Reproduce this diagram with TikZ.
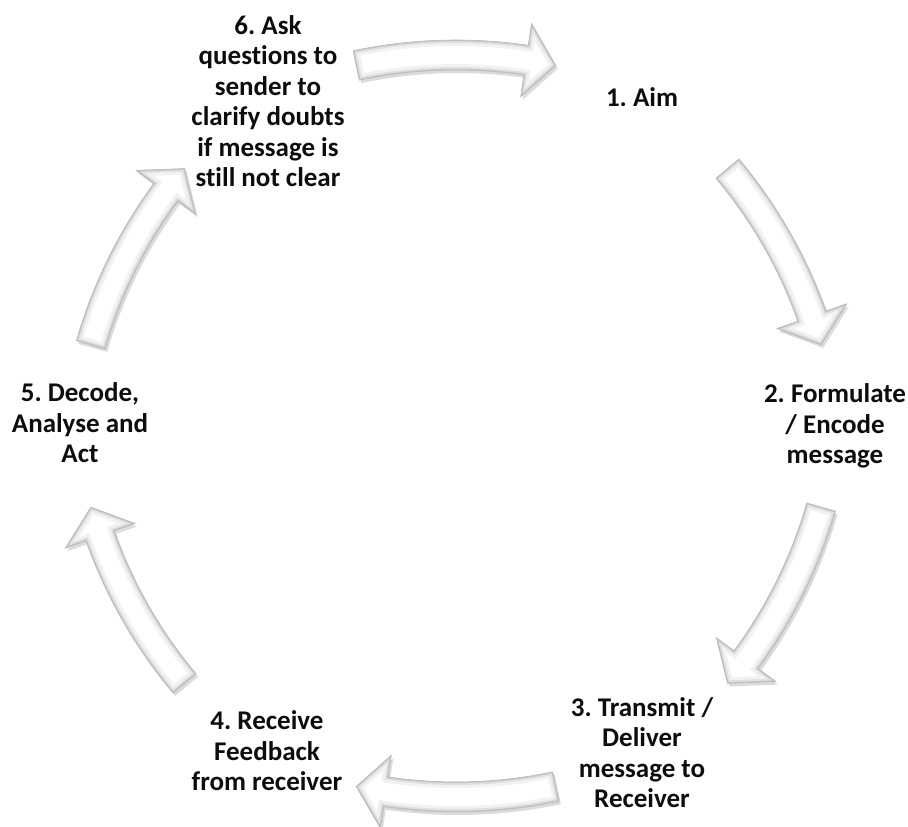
\documentclass[tikz,border=0pt]{standalone}
\usepackage{fontspec}
\setmainfont[Ligatures=NoCommon]{Carlito}
\tikzset{
  lbl/.style={font=\bfseries\fontsize{27}{30.5}\selectfont, align=center,
              inner sep=0pt, anchor=base, text=black!95},
  arrowedge/.style={draw=gray!55, line width=0.6},
}
% curved block arrow around the local centre of curvature, mid angle #1
\newcommand\cycarrow[1]{%
  (#1+12:495) arc[start angle=#1+12, end angle=#1-8.4, radius=495]
  -- (#1-8.4:517) -- (#1-12:480) -- (#1-8.4:443) -- (#1-8.4:465)
  arc[start angle=#1-8.4, end angle=#1+12, radius=465] -- cycle}
\newcommand\drawcyc[1]{%
  \begin{scope}[shift={(#1+180:109)}]
    \fill[gray!50, opacity=0.55, shift={(2,-3)}] \cycarrow{#1};
    \fill[white] \cycarrow{#1};
    \begin{scope}
      \clip \cycarrow{#1};
      \draw[line width=12, gray!10] \cycarrow{#1};
      \draw[line width=6, gray!24] \cycarrow{#1};
      \draw[line width=2.4, gray!45] \cycarrow{#1};
    \end{scope}
    \path[arrowedge] \cycarrow{#1};
  \end{scope}}
\begin{document}
\frenchspacing
\begin{tikzpicture}[x=1pt,y=1pt]
\useasboundingbox (0,0) rectangle (908,827);
\fill[white] (0,0) rectangle (908,827);
% arrows
\begin{scope}[shift={(456,401)}]
  \drawcyc{90}
  \drawcyc{28}
  \drawcyc{-28}
  \drawcyc{-90}
  \drawcyc{-152}
  \drawcyc{152}
\end{scope}
% labels (anchor = baseline of the last line)
\node[lbl] (l1) at (642,720) {1. Aim};
\node[lbl] (l2) at (835,363) {2. Formulate\\/ Encode\\message};
\node[lbl] (l3) at (642,19) {3. Transmit /\\Deliver\\message to\\Receiver};
\node[lbl] (l4) at (267,36) {4. Receive\\Feedback\\from receiver};
\node[lbl] (l5) at (80,364) {5. Decode,\\Analyse and\\Act};
\node[lbl] (l6) at (268,640) {6. Ask\\questions to\\sender to\\clarify doubts\\if message is\\still not clear};
\end{tikzpicture}
\end{document}
